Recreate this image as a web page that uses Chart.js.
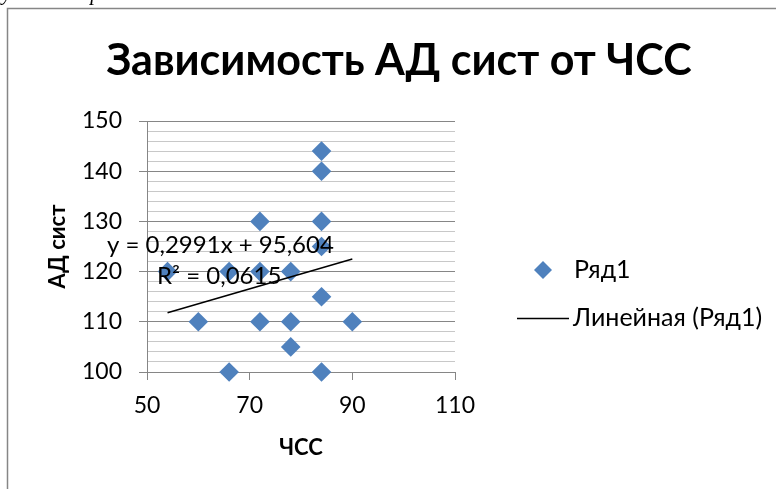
<!DOCTYPE html>
<html lang="ru">
<head>
<meta charset="utf-8">
<title>Зависимость АД сист от ЧСС</title>
<script src="https://cdn.jsdelivr.net/npm/chart.js@4.4.1/dist/chart.umd.min.js"></script>
<style>
    html, body { margin: 0; padding: 0; background: #fff; }
    #chart { display: block; }
</style>
</head>
<body>
<canvas id="chart" width="776" height="489"></canvas>
<script>
    // ЧСС (x) and АД сист (y)
    const heartRate = [84, 84, 72, 84, 84, 54, 66, 72, 78, 84, 60, 72, 78, 90, 78, 66, 84];
    const systolic = [144, 140, 130, 130, 125, 120, 120, 120, 120, 115, 110, 110, 110, 110, 105, 100, 100];

    // linear trend end points
    const trendX = [54, 90];
    const trendY = [111.8, 122.5];

    const xTicks = [50, 70, 90, 110];
    const yTicks = [100, 110, 120, 130, 140, 150];

    const titleText = 'Зависимость АД сист от ЧСС';
    const xTitle = 'ЧСС';
    const yTitle = 'АД сист';
    const seriesName = 'Ряд1';
    const trendName = 'Линейная (Ряд1)';
    const equationLines = ['y = 0,2991x + 95,604', 'R² = 0,0615'];
    const pageText = 'указать прочее.';

    const FONT = 'Lato, "Open Sans", sans-serif';
    const BLUE = '#4F81BD';
    const AXIS_GRAY = '#868686';
    const MINOR_GRAY = '#C8C8C8';

    const points = heartRate.map(function (x, i) {
        return { x: x, y: systolic[i] };
    });
    const trend = trendX.map(function (x, i) {
        return { x: x, y: trendY[i] };
    });

    const decor = {
        id: 'decor',
        beforeDraw: function (chart) {
            const ctx = chart.ctx;
            ctx.save();
            ctx.fillStyle = '#fff';
            ctx.fillRect(0, 0, chart.width, chart.height);

            // clipped line of the page text above the chart frame
            ctx.fillStyle = '#000';
            ctx.font = 'italic 21px "Liberation Serif", serif';
            ctx.textBaseline = 'alphabetic';
            ctx.textAlign = 'left';
            ctx.fillText(pageText, 2, 0);

            // chart frame
            ctx.strokeStyle = AXIS_GRAY;
            ctx.lineWidth = 1.5;
            ctx.beginPath();
            ctx.moveTo(7.5, chart.height);
            ctx.lineTo(7.5, 8.5);
            ctx.lineTo(chart.width, 8.5);
            ctx.stroke();

            ctx.font = 'bold 43px ' + FONT;
            ctx.textAlign = 'center';
            ctx.fillText(titleText, 399, 75);
            ctx.restore();
        },
        afterDatasetsDraw: function (chart) {
            const ctx = chart.ctx;
            ctx.save();
            ctx.fillStyle = '#000';
            ctx.font = '24px ' + FONT;
            ctx.textBaseline = 'middle';
            ctx.textAlign = 'left';
            ctx.fillText(equationLines[0], 107, 245);
            ctx.fillText(equationLines[1], 157, 276);

            // legend
            const scatter = chart.data.datasets[1];
            const line = chart.data.datasets[0];
            ctx.fillStyle = scatter.backgroundColor;
            ctx.beginPath();
            ctx.moveTo(543, 261);
            ctx.lineTo(552, 270);
            ctx.lineTo(543, 279);
            ctx.lineTo(534, 270);
            ctx.closePath();
            ctx.fill();
            ctx.strokeStyle = line.borderColor;
            ctx.lineWidth = line.borderWidth;
            ctx.beginPath();
            ctx.moveTo(517, 318.5);
            ctx.lineTo(569, 318.5);
            ctx.stroke();
            ctx.fillStyle = '#000';
            ctx.font = '25px ' + FONT;
            ctx.fillText(scatter.label, 574, 270);
            ctx.fillText(line.label, 573, 318);
            ctx.restore();
        }
    };

    new Chart(document.getElementById('chart'), {
        type: 'scatter',
        data: {
            datasets: [{
                type: 'line',
                label: trendName,
                data: trend,
                borderColor: '#000',
                borderWidth: 1.5,
                pointRadius: 0,
                fill: false,
                order: 0
            }, {
                label: seriesName,
                data: points,
                pointStyle: 'rectRot',
                pointRadius: 9.8,
                backgroundColor: BLUE,
                borderColor: BLUE,
                borderWidth: 0,
                clip: false,
                order: 1
            }]
        },
        options: {
            responsive: false,
            animation: false,
            devicePixelRatio: 1,
            layout: { padding: { left: 30, top: 121, right: 321, bottom: 0 } },
            plugins: {
                legend: { display: false },
                tooltip: { enabled: false }
            },
            scales: {
                x: {
                    type: 'linear',
                    min: xTicks[0],
                    max: xTicks[xTicks.length - 1],
                    afterBuildTicks: function (scale) {
                        scale.ticks = xTicks.map(function (v) { return { value: v }; });
                    },
                    afterFit: function (scale) { scale.height = 117; },
                    grid: {
                        drawOnChartArea: false,
                        drawTicks: true,
                        tickLength: 8,
                        tickColor: AXIS_GRAY
                    },
                    border: { color: AXIS_GRAY, width: 1 },
                    ticks: {
                        color: '#000',
                        font: { family: FONT, size: 23 },
                        padding: 12,
                        maxRotation: 0
                    },
                    title: {
                        display: true,
                        text: xTitle,
                        color: '#000',
                        font: { family: FONT, size: 22, weight: 'bold' },
                        padding: { top: 0, bottom: 28 }
                    }
                },
                y: {
                    type: 'linear',
                    min: yTicks[0],
                    max: yTicks[yTicks.length - 1],
                    ticks: {
                        stepSize: 2,
                        autoSkip: false,
                        color: '#000',
                        font: { family: FONT, size: 23 },
                        padding: 17,
                        callback: function (v) {
                            return yTicks.indexOf(v) >= 0 ? String(v) : '';
                        }
                    },
                    afterFit: function (scale) { scale.width = 117; },
                    grid: {
                        color: function (c) {
                            return c.tick && yTicks.indexOf(c.tick.value) >= 0 ? AXIS_GRAY : MINOR_GRAY;
                        },
                        tickColor: function (c) {
                            return c.tick && yTicks.indexOf(c.tick.value) >= 0 ? AXIS_GRAY : 'rgba(0,0,0,0)';
                        },
                        tickLength: 8,
                        lineWidth: 1
                    },
                    border: { color: AXIS_GRAY, width: 1 },
                    title: {
                        display: true,
                        text: yTitle,
                        color: '#000',
                        font: { family: FONT, size: 22, weight: 'bold' },
                        padding: { top: 15, bottom: 0 }
                    }
                }
            }
        },
        plugins: [decor]
    });
</script>
</body>
</html>
